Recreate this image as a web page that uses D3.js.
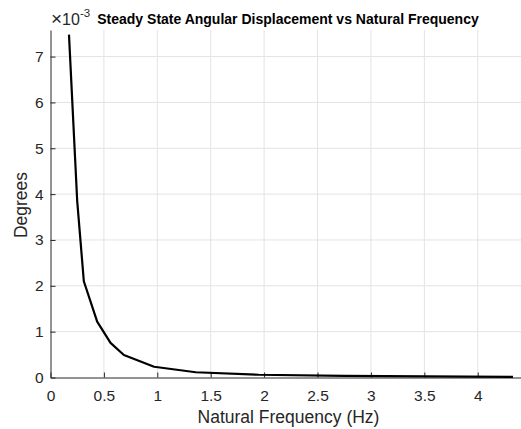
<!DOCTYPE html>
<html>
<head>
<meta charset="utf-8">
<script src="https://cdn.jsdelivr.net/npm/d3@7"></script>
<style>
  body { margin: 0; background: #fff; }
  svg { display: block; font-family: "Liberation Sans", Arial, sans-serif; }
</style>
</head>
<body>
<div id="chart"></div>
<script>
// values (degrees are in units of 1e-3)
const freqs   = [0.173, 0.25, 0.312, 0.437, 0.562, 0.687, 0.97, 1.36, 1.95, 2.75, 3.9, 4.33];
const degrees = [7.48, 3.85, 2.10, 1.22, 0.755, 0.49, 0.235, 0.115, 0.06, 0.035, 0.018, 0.014];
const xTicks = [0, 0.5, 1, 1.5, 2, 2.5, 3, 3.5, 4];
const yTicks = [0, 1, 2, 3, 4, 5, 6, 7];

const W = 521, H = 429;
const margin = {top: 30, right: 0, bottom: 51.5, left: 50.5};
const width = W - margin.left - margin.right,
      height = H - margin.top - margin.bottom;

const svg = d3.select("#chart").append("svg")
    .attr("width", W)
    .attr("height", H);

const g = svg.append("g")
    .attr("transform", `translate(${margin.left},${margin.top})`);

const x = d3.scaleLinear().domain([0, 4.405]).range([0, width]);
const y = d3.scaleLinear().domain([0, 7.58]).range([height, 0]);

const axisCol = "#262626";

// grid
g.append("g").selectAll("line")
    .data(xTicks.filter(d => d > 0))
    .enter().append("line")
    .attr("x1", d => x(d)).attr("x2", d => x(d))
    .attr("y1", 0).attr("y2", height)
    .attr("stroke", "#e3e3e3").attr("stroke-width", 1);
g.append("g").selectAll("line")
    .data(yTicks.filter(d => d > 0))
    .enter().append("line")
    .attr("x1", 0).attr("x2", width)
    .attr("y1", d => y(d)).attr("y2", d => y(d))
    .attr("stroke", "#e3e3e3").attr("stroke-width", 1);

// axes, ticks pointing inward
const xAxis = g.append("g")
    .attr("transform", `translate(0,${height})`)
    .call(d3.axisBottom(x).tickValues(xTicks).tickSizeInner(-5).tickSizeOuter(0).tickPadding(12)
        .tickFormat(d3.format("")));
const yAxis = g.append("g")
    .call(d3.axisLeft(y).tickValues(yTicks).tickSizeInner(-5).tickSizeOuter(0).tickPadding(7)
        .tickFormat(d3.format("")));

[xAxis, yAxis].forEach(a => {
    a.select(".domain").attr("stroke", axisCol);
    a.selectAll(".tick line").attr("stroke", axisCol);
    a.selectAll(".tick text")
        .attr("fill", axisCol)
        .style("font-size", "15.5px")
        .style("font-family", "Liberation Sans, Arial, sans-serif");
});

// data line
const line = d3.line()
    .x((d, i) => x(freqs[i]))
    .y(d => y(d));

g.append("path")
    .datum(degrees)
    .attr("fill", "none")
    .attr("stroke", "#000")
    .attr("stroke-width", 2.2)
    .attr("stroke-linejoin", "round")
    .attr("d", line);

// labels
svg.append("text")
    .attr("x", 288.5).attr("y", 423)
    .attr("text-anchor", "middle")
    .attr("fill", axisCol)
    .style("font-size", "17.5px")
    .text("Natural Frequency (Hz)");

svg.append("text")
    .attr("transform", "translate(27,205) rotate(-90)")
    .attr("text-anchor", "middle")
    .attr("fill", axisCol)
    .style("font-size", "17.5px")
    .text("Degrees");

svg.append("text")
    .attr("x", 288).attr("y", 24)
    .attr("text-anchor", "middle")
    .attr("fill", "#000")
    .style("font-size", "14px")
    .style("font-weight", "bold")
    .text("Steady State Angular Displacement vs Natural Frequency");

// exponent label
const expo = svg.append("text")
    .attr("x", 51).attr("y", 24.5)
    .attr("fill", axisCol)
    .style("font-size", "16px");
expo.append("tspan").style("font-size", "19px").text("\u00d7");
expo.append("tspan").text("10");
expo.append("tspan").attr("dy", -8).style("font-size", "11.5px").text("-3");
</script>
</body>
</html>
